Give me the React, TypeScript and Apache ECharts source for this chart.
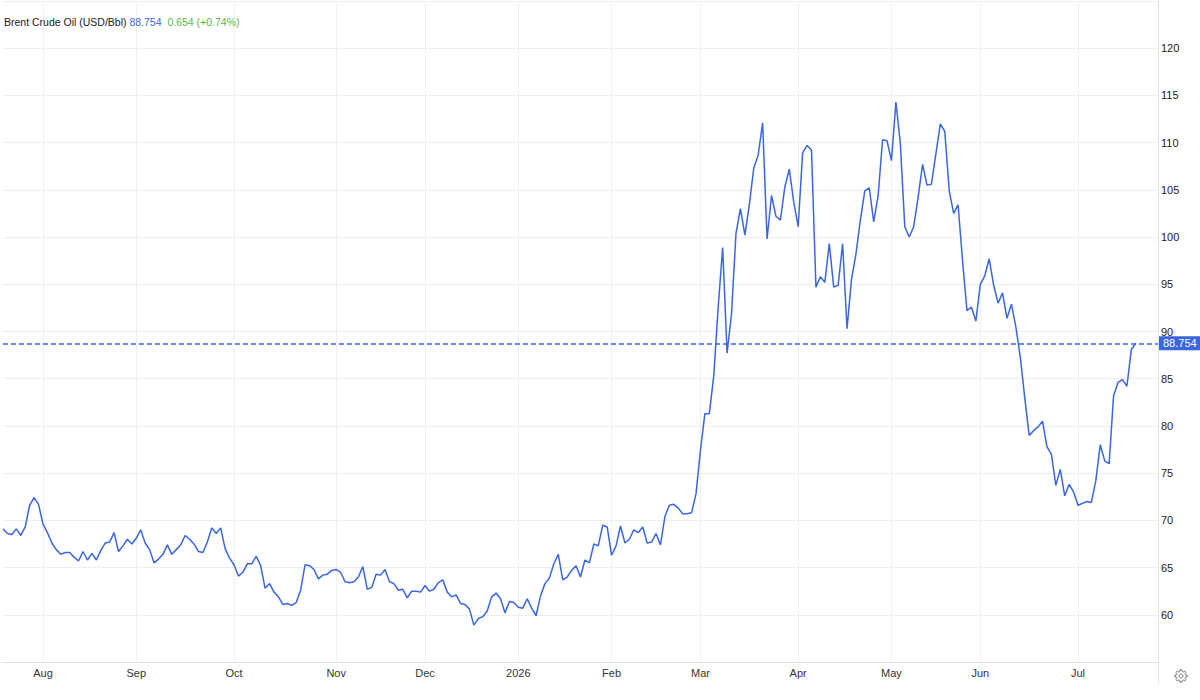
import React, { useEffect, useRef } from "react";
import * as echarts from "echarts";

const TITLE = "Brent Crude Oil (USD/Bbl)";
const LAST_PRICE_TEXT = "88.754";
const CHANGE_TEXT = "0.654 (+0.74%)";

const START_DATE = "2025-07-21";
const HOLIDAYS = ["2025-12-25", "2025-12-26", "2026-01-01", "2026-04-03", "2026-05-25"];
const FUTURE_SLOTS = 5;

// index by month number (0 = January)
const MONTH_LABELS = ["2026", "Feb", "Mar", "Apr", "May", "Jun", "Jul", "Aug", "Sep", "Oct", "Nov", "Dec"];

const PRICES = [
  69.1, 68.6, 68.5, 69.1, 68.4, 69.3, 71.6, 72.4, 71.7, 69.6,
  68.7, 67.6, 66.9, 66.4, 66.6, 66.6, 66.1, 65.7, 66.7, 65.8,
  66.5, 65.8, 66.8, 67.6, 67.7, 68.7, 66.7, 67.3, 68.0, 67.5,
  68.1, 69.0, 67.6, 66.9, 65.5, 65.9, 66.4, 67.4, 66.4, 66.9,
  67.4, 68.4, 68.0, 67.5, 66.7, 66.6, 67.7, 69.2, 68.6, 69.2,
  67.0, 66.0, 65.3, 64.1, 64.5, 65.4, 65.4, 66.2, 65.2, 62.8,
  63.3, 62.4, 61.9, 61.1, 61.2, 61.0, 61.3, 62.6, 65.3, 65.2,
  64.8, 63.8, 64.2, 64.3, 64.7, 64.8, 64.5, 63.5, 63.4, 63.5,
  64.0, 65.1, 62.7, 62.9, 64.3, 64.2, 64.8, 63.5, 63.3, 62.6,
  62.7, 61.8, 62.5, 62.5, 62.4, 63.1, 62.5, 62.7, 63.4, 63.7,
  62.4, 61.9, 62.1, 61.2, 61.1, 60.6, 58.9, 59.6, 59.8, 60.4,
  61.9, 62.3, 61.7, 60.2, 61.4, 61.3, 60.8, 60.7, 61.7, 60.7,
  59.9, 62.0, 63.3, 63.9, 65.4, 66.4, 63.7, 64.0, 64.7, 65.2,
  64.0, 65.8, 65.5, 67.5, 67.3, 69.5, 69.3, 66.3, 67.3, 69.4,
  67.6, 68.0, 69.0, 68.7, 69.3, 67.6, 67.7, 68.6, 67.4, 70.4,
  71.6, 71.7, 71.3, 70.7, 70.7, 70.8, 72.8, 77.4, 81.3, 81.3,
  85.3, 92.6, 98.9, 87.7, 91.9, 100.4, 103.0, 100.2, 103.4, 107.3,
  108.7, 112.1, 99.8, 104.4, 102.2, 101.8, 105.3, 107.2, 103.7, 101.1,
  108.9, 109.7, 109.2, 94.7, 95.8, 95.2, 99.3, 94.7, 94.9, 99.3,
  90.3, 95.5, 98.2, 101.8, 104.9, 105.2, 101.6, 104.4, 110.3, 110.2,
  108.1, 114.3, 109.9, 101.1, 100.0, 101.1, 104.2, 107.7, 105.5, 105.6,
  108.8, 112.0, 111.2, 104.9, 102.5, 103.4, 97.5, 92.2, 92.6, 91.1,
  95.0, 95.9, 97.7, 94.9, 93.0, 94.1, 91.4, 92.9, 90.5, 87.3,
  83.0, 79.0, 79.5, 79.9, 80.5, 77.8, 77.0, 73.7, 75.4, 72.6,
  73.8, 73.0, 71.6, 71.8, 72.0, 71.9, 74.2, 78.0, 76.3, 76.0,
  83.2, 84.6, 84.9, 84.2, 88.1, 88.754,
];

const Y_MIN = 55;
const Y_MAX = 125;
const Y_STEP = 5;

const LINE_COLOR = "#3b66e2";
const GREEN = "#5cb84a";
const FONT = "'Liberation Sans', Arial, Helvetica, sans-serif";

function pad(n: number) {
  return n < 10 ? "0" + n : String(n);
}

function buildTradingDays(count: number): string[] {
  const out: string[] = [];
  const [y, m, d] = START_DATE.split("-").map(Number);
  let t = Date.UTC(y, m - 1, d);
  while (out.length < count) {
    const dt = new Date(t);
    const day = dt.getUTCDay();
    const s = dt.getUTCFullYear() + "-" + pad(dt.getUTCMonth() + 1) + "-" + pad(dt.getUTCDate());
    if (day !== 0 && day !== 6 && HOLIDAYS.indexOf(s) < 0) out.push(s);
    t += 86400000;
  }
  return out;
}

function gearPoints(cx: number, cy: number): number[][] {
  const teeth = 8;
  const R = 6.2;
  const r = 4.6;
  const w = (Math.PI * 2) / teeth;
  const pts: number[][] = [];
  for (let k = 0; k < teeth; k++) {
    const a = k * w;
    const list: [number, number][] = [
      [r, a - 0.32 * w],
      [R, a - 0.2 * w],
      [R, a + 0.2 * w],
      [r, a + 0.32 * w],
    ];
    for (const [rad, ang] of list) {
      pts.push([cx + rad * Math.cos(ang), cy + rad * Math.sin(ang)]);
    }
  }
  return pts;
}

export default function App() {
  const ref = useRef<HTMLDivElement>(null);

  useEffect(() => {
    if (!ref.current) return;
    const chart = echarts.init(ref.current, undefined, { renderer: "svg" });
    const dates = buildTradingDays(PRICES.length + FUTURE_SLOTS);
    const firstOfMonth = new Set<number>();
    for (let i = 1; i < dates.length; i++) {
      if (dates[i].slice(0, 7) !== dates[i - 1].slice(0, 7)) firstOfMonth.add(i);
    }
    const isMonthStart = (idx: number) => firstOfMonth.has(idx);

    const option: any = {
      animation: false,
      backgroundColor: "#ffffff",
      textStyle: { fontFamily: FONT },
      title: {
        left: 4,
        top: 16,
        padding: 0,
        text: `{a|${TITLE}} {b|${LAST_PRICE_TEXT}}  {c|${CHANGE_TEXT}}`,
        textStyle: {
          fontSize: 10.5,
          fontWeight: "normal",
          fontFamily: FONT,
          rich: {
            a: { color: "#222", fontSize: 10.5, fontFamily: FONT },
            b: { color: LINE_COLOR, fontSize: 10.5, fontFamily: FONT },
            c: { color: GREEN, fontSize: 10.5, fontFamily: FONT },
          },
        },
      },
      grid: { left: 3, right: 42, top: 1, bottom: 38, containLabel: false },
      xAxis: {
        type: "category",
        data: dates,
        boundaryGap: false,
        axisLine: { show: true, lineStyle: { color: "#e3e3e3", width: 1 } },
        axisTick: { show: false },
        axisLabel: {
          interval: (idx: number) => isMonthStart(idx),
          formatter: (v: string) => MONTH_LABELS[Number(v.slice(5, 7)) - 1],
          color: "#333",
          fontSize: 11,
          fontFamily: FONT,
          margin: 5,
        },
        splitLine: {
          show: true,
          interval: (idx: number) => isMonthStart(idx),
          lineStyle: { color: "#f0f0f0", width: 1 },
        },
      },
      yAxis: {
        type: "value",
        position: "right",
        min: Y_MIN,
        max: Y_MAX,
        interval: Y_STEP,
        axisLine: { show: false },
        axisTick: { show: false },
        axisLabel: {
          formatter: (v: number) => (v === Y_MIN || v === Y_MAX ? "" : String(v)),
          color: "#222",
          fontSize: 11,
          fontFamily: FONT,
          margin: 3,
        },
        splitLine: { show: true, lineStyle: { color: "#eeeeee", width: 1 } },
      },
      series: [
        {
          type: "line",
          data: PRICES,
          showSymbol: false,
          symbol: "none",
          lineStyle: { color: LINE_COLOR, width: 1.5 },
          itemStyle: { color: LINE_COLOR },
          silent: true,
          markLine: {
            silent: true,
            symbol: ["none", "none"],
            data: [{ yAxis: PRICES[PRICES.length - 1] }],
            lineStyle: { color: LINE_COLOR, type: [5, 3], width: 1.5, opacity: 1 },
            emphasis: { disabled: true },
            label: {
              show: true,
              position: "end",
              distance: 1,
              formatter: LAST_PRICE_TEXT,
              color: "#ffffff",
              backgroundColor: LINE_COLOR,
              padding: [2, 4, 1, 4],
              fontSize: 11,
              fontFamily: FONT,
            },
          },
        },
      ],
      graphic: [
        {
          type: "line",
          silent: true,
          shape: { x1: 1158.5, y1: 0, x2: 1158.5, y2: 684 },
          style: { stroke: "#e3e3e3", lineWidth: 1 },
        },
        {
          type: "polygon",
          silent: true,
          shape: { points: gearPoints(1181, 676) },
          style: { fill: "none", stroke: "#777", lineWidth: 1 },
        },
        {
          type: "circle",
          silent: true,
          shape: { cx: 1181, cy: 676, r: 2 },
          style: { fill: "none", stroke: "#777", lineWidth: 1 },
        },
      ],
    };
    chart.setOption(option);
    return () => chart.dispose();
  }, []);

  return (
    <div
      ref={ref}
      style={{ position: "fixed", left: 0, top: 0, width: 1200, height: 700, background: "#fff" }}
    />
  );
}
